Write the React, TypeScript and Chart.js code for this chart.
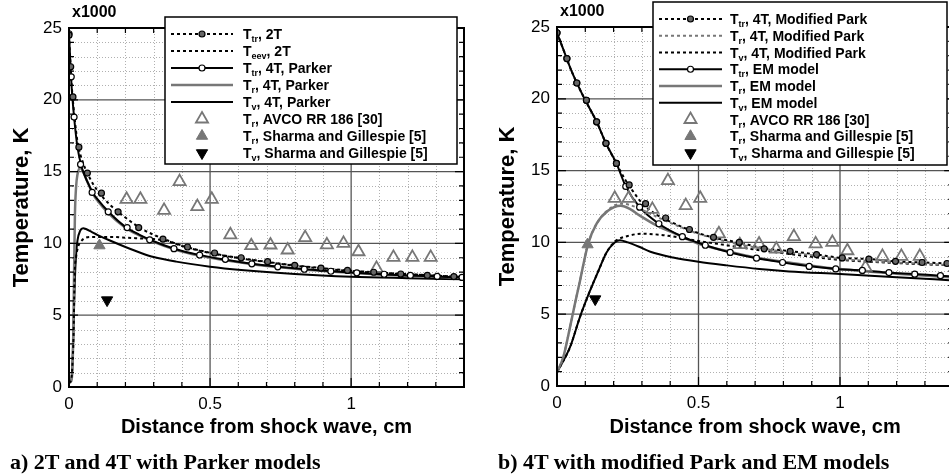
import React, { useEffect, useRef } from 'react';
import { Chart, registerables } from 'chart.js';
Chart.register(...registerables);

const FONT = "'Liberation Sans', Arial, Helvetica, sans-serif";
const SERIF = "'Liberation Serif', 'Times New Roman', serif";
const GRAY = '#777777';

// axes (x in cm, T in units of 1000 K)
const X_TICKS = [0, 0.5, 1];
const Y_TICKS = [0, 5, 10, 15, 20, 25];
const X_MAX = 1.4;
const Y_MAX = 25;

// ---------- Panel a) 2T and 4T with Parker models ----------
const A_TTR2T_X = [0, 0.005, 0.01, 0.02, 0.03, 0.05, 0.075, 0.1, 0.15, 0.2, 0.25, 0.3, 0.35, 0.4, 0.5, 0.6, 0.7, 0.8, 0.9, 1.0, 1.1, 1.2, 1.3, 1.4];
const A_TTR2T_Y = [24.5, 22.6, 20.9, 18.7, 17.1, 15.6, 14.5, 13.7, 12.6, 11.8, 11.1, 10.6, 10.2, 9.85, 9.35, 9.0, 8.72, 8.47, 8.27, 8.1, 7.97, 7.86, 7.76, 7.66];
const A_TTR2T_MX = [0, 0.006, 0.014, 0.035, 0.065, 0.115, 0.174, 0.247, 0.333, 0.42, 0.516, 0.61, 0.704, 0.8, 0.893, 0.987, 1.08, 1.176, 1.27, 1.364];
const A_TTR2T_MY = [24.5, 22.3, 20.2, 16.7, 14.9, 13.5, 12.2, 11.1, 10.3, 9.75, 9.33, 9.0, 8.73, 8.47, 8.28, 8.12, 7.99, 7.87, 7.77, 7.69];

const A_TEEV2T_X = [0, 0.008, 0.012, 0.016, 0.02, 0.025, 0.033, 0.045, 0.06, 0.08, 0.1, 0.15, 0.2, 0.25, 0.3, 0.35, 0.4, 0.5, 0.6, 0.7, 0.8, 0.9, 1.0, 1.1, 1.2, 1.3, 1.4];
const A_TEEV2T_Y = [0.3, 0.5, 1.5, 3.5, 7.8, 9.0, 9.8, 10.2, 10.4, 10.45, 10.45, 10.45, 10.4, 10.35, 10.3, 10.15, 9.82, 9.33, 8.98, 8.7, 8.45, 8.25, 8.08, 7.95, 7.85, 7.75, 7.65];

const A_TTR4T_X = [0, 0.005, 0.01, 0.02, 0.03, 0.045, 0.065, 0.085, 0.1, 0.14, 0.2, 0.25, 0.3, 0.37, 0.46, 0.55, 0.65, 0.75, 0.85, 1.0, 1.1, 1.2, 1.3, 1.4];
const A_TTR4T_Y = [24.6, 22.5, 20.7, 18.4, 16.7, 15.3, 14.3, 13.5, 13.1, 12.2, 11.15, 10.6, 10.15, 9.65, 9.2, 8.88, 8.58, 8.36, 8.18, 7.97, 7.86, 7.77, 7.7, 7.62];
const A_TTR4T_MX = [0, 0.008, 0.018, 0.041, 0.082, 0.139, 0.206, 0.286, 0.372, 0.463, 0.554, 0.648, 0.74, 0.834, 0.928, 1.02, 1.117, 1.21, 1.305, 1.393];
const A_TTR4T_MY = [24.6, 21.6, 18.8, 15.5, 13.55, 12.2, 11.1, 10.25, 9.63, 9.19, 8.89, 8.58, 8.37, 8.2, 8.06, 7.95, 7.85, 7.77, 7.7, 7.63];

const A_TR4T_X = [0, 0.008, 0.012, 0.015, 0.018, 0.021, 0.025, 0.03, 0.04, 0.05, 0.065, 0.085, 0.1, 0.14, 0.2, 0.25, 0.3, 0.37, 0.46, 0.55, 0.65, 0.75, 0.85, 1.0, 1.1, 1.2, 1.3, 1.4];
const A_TR4T_Y = [0.3, 0.4, 1.2, 3.5, 8.0, 12.0, 13.9, 14.8, 15.25, 15.0, 14.3, 13.45, 13.0, 12.1, 11.1, 10.55, 10.1, 9.6, 9.15, 8.84, 8.55, 8.33, 8.15, 7.95, 7.84, 7.75, 7.68, 7.6];

const A_TV4T_X = [0, 0.008, 0.012, 0.016, 0.02, 0.025, 0.03, 0.04, 0.05, 0.06, 0.08, 0.1, 0.145, 0.2, 0.26, 0.3, 0.38, 0.5, 0.61, 0.8, 1.0, 1.2, 1.4];
const A_TV4T_Y = [0.3, 0.5, 1.5, 4.0, 7.0, 9.2, 10.2, 10.9, 11.05, 11.0, 10.8, 10.6, 10.2, 9.75, 9.3, 9.05, 8.73, 8.38, 8.15, 7.87, 7.68, 7.58, 7.5];

// ---------- Panel b) 4T with modified Park and EM models ----------
const B_TTR_MP_X = [0, 0.025, 0.05, 0.075, 0.1, 0.14, 0.173, 0.21, 0.24, 0.26, 0.3, 0.35, 0.4, 0.47, 0.55, 0.64, 0.73, 0.82, 0.92, 1.0, 1.1, 1.2, 1.3, 1.4];
const B_TTR_MP_Y = [24.6, 23.3, 22.0, 20.9, 19.9, 18.4, 16.9, 15.5, 14.4, 13.8, 12.75, 11.95, 11.45, 10.85, 10.35, 10.0, 9.6, 9.4, 9.15, 8.93, 8.84, 8.68, 8.6, 8.52];
const B_TTR_MP_MX = [0, 0.035, 0.07, 0.104, 0.14, 0.173, 0.21, 0.255, 0.313, 0.384, 0.468, 0.553, 0.644, 0.732, 0.824, 0.917, 1.008, 1.102, 1.196, 1.29, 1.378];
const B_TTR_MP_MY = [24.6, 22.8, 21.1, 19.9, 18.4, 16.9, 15.5, 14.0, 12.7, 11.7, 10.9, 10.35, 10.0, 9.55, 9.38, 9.15, 8.92, 8.84, 8.68, 8.6, 8.53];

const B_TR_MP_X = [0, 0.022, 0.046, 0.063, 0.081, 0.11, 0.14, 0.18, 0.23, 0.28, 0.35, 0.42, 0.5, 0.6, 0.7, 0.8, 0.9, 1.0, 1.1, 1.2, 1.3, 1.4];
const B_TR_MP_Y = [0.95, 2.0, 4.1, 5.7, 7.3, 9.9, 11.3, 12.25, 12.7, 12.45, 11.8, 11.2, 10.6, 10.05, 9.65, 9.35, 9.1, 8.85, 8.7, 8.6, 8.5, 8.42];

const B_TV_MP_X = [0, 0.046, 0.081, 0.116, 0.146, 0.175, 0.204, 0.25, 0.3, 0.37, 0.43, 0.5, 0.6, 0.7, 0.8, 0.9, 1.0, 1.1, 1.2, 1.3, 1.4];
const B_TV_MP_Y = [0.95, 2.7, 4.8, 6.6, 8.0, 9.3, 10.05, 10.45, 10.6, 10.52, 10.35, 10.1, 9.8, 9.5, 9.25, 9.0, 8.78, 8.66, 8.56, 8.47, 8.4];

const B_TTR_EM_X = [0, 0.025, 0.05, 0.075, 0.1, 0.14, 0.173, 0.21, 0.243, 0.292, 0.36, 0.443, 0.524, 0.612, 0.705, 0.8, 0.89, 0.985, 1.08, 1.17, 1.26, 1.355, 1.4];
const B_TTR_EM_Y = [24.6, 23.3, 22.0, 20.9, 19.9, 18.4, 16.9, 15.5, 13.9, 12.45, 11.3, 10.4, 9.8, 9.3, 8.9, 8.6, 8.35, 8.15, 8.05, 7.9, 7.8, 7.68, 7.63];
const B_TTR_EM_MX = [0, 0.035, 0.07, 0.104, 0.14, 0.173, 0.21, 0.243, 0.292, 0.36, 0.443, 0.524, 0.612, 0.705, 0.797, 0.891, 0.985, 1.079, 1.173, 1.264, 1.355];
const B_TTR_EM_MY = [24.6, 22.8, 21.1, 19.9, 18.4, 16.9, 15.5, 13.9, 12.45, 11.3, 10.4, 9.8, 9.3, 8.9, 8.6, 8.33, 8.15, 8.05, 7.9, 7.79, 7.68];

const B_TR_EM_X = [0, 0.022, 0.046, 0.063, 0.081, 0.11, 0.14, 0.18, 0.225, 0.26, 0.29, 0.35, 0.43, 0.5, 0.6, 0.7, 0.82, 1.0, 1.2, 1.4];
const B_TR_EM_Y = [0.95, 2.0, 4.1, 5.7, 7.3, 9.9, 11.3, 12.2, 12.55, 12.3, 11.9, 11.2, 10.5, 9.9, 9.4, 8.95, 8.6, 8.14, 7.82, 7.55];

const B_TV_EM_X = [0, 0.046, 0.081, 0.116, 0.146, 0.175, 0.204, 0.222, 0.25, 0.29, 0.33, 0.41, 0.5, 0.6, 0.715, 0.82, 1.0, 1.2, 1.4];
const B_TV_EM_Y = [0.95, 2.7, 4.8, 6.6, 8.0, 9.3, 10.0, 10.15, 10.0, 9.7, 9.35, 8.95, 8.65, 8.4, 8.15, 7.98, 7.8, 7.58, 7.35];

// ---------- Experimental data (both panels) ----------
const AVCO_X = [0.204, 0.253, 0.337, 0.392, 0.455, 0.506, 0.572, 0.646, 0.714, 0.775, 0.837, 0.914, 0.973, 1.026, 1.09, 1.15, 1.217, 1.282];
const AVCO_Y = [13.07, 13.07, 12.3, 14.3, 12.56, 13.07, 10.6, 9.84, 9.89, 9.54, 10.4, 9.9, 10.0, 9.42, 8.26, 9.03, 9.03, 9.03];
const SHARMA_TR_X = [0.108];
const SHARMA_TR_Y = [9.85];
const SHARMA_TV_X = [0.135];
const SHARMA_TV_Y = [6.05];

// ---------- Text ----------
const A_LEG_SUB = ['tr', 'eev', 'tr', 'r', 'v', 'r', 'r', 'v'];
const A_LEG_REST = [', 2T', ', 2T', ', 4T, Parker', ', 4T, Parker', ', 4T, Parker', ', AVCO RR 186 [30]', ', Sharma and Gillespie [5]', ', Sharma and Gillespie [5]'];
const B_LEG_SUB = ['tr', 'r', 'v', 'tr', 'r', 'v', 'r', 'r', 'v'];
const B_LEG_REST = [', 4T, Modified Park', ', 4T, Modified Park', ', 4T, Modified Park', ', EM model', ', EM model', ', EM model', ', AVCO RR 186 [30]', ', Sharma and Gillespie [5]', ', Sharma and Gillespie [5]'];
const X_TITLE = 'Distance from shock wave, cm';
const Y_TITLE = 'Temperature, K';
const Y_SCALE_NOTE = 'x1000';
const CAPTION_A = 'a) 2T and 4T with Parker models';
const CAPTION_B = 'b) 4T with modified Park and EM models';

const zip = (xs: number[], ys: number[]) => xs.map((x, i) => ({ x, y: ys[i] }));

function lineDs(xs: number[], ys: number[], color: string, dash: number[], width: number) {
  return {
    data: zip(xs, ys), borderColor: color, borderWidth: width, borderDash: dash,
    pointRadius: 0, fill: false, cubicInterpolationMode: 'monotone', showLine: true,
  };
}
function markDs(xs: number[], ys: number[], style: string, radius: number, bg: string, border: string, bw: number, rot = 0) {
  return {
    data: zip(xs, ys), showLine: false, pointStyle: style, pointRadius: radius,
    pointBackgroundColor: bg, pointBorderColor: border, pointBorderWidth: bw, pointRotation: rot,
  };
}

function drawMarker(ctx: CanvasRenderingContext2D, ds: any, x: number, y: number) {
  const r = ds.pointRadius;
  ctx.save();
  ctx.setLineDash([]);
  ctx.lineWidth = ds.pointBorderWidth;
  ctx.strokeStyle = ds.pointBorderColor;
  ctx.fillStyle = ds.pointBackgroundColor;
  ctx.beginPath();
  if (ds.pointStyle === 'circle') {
    ctx.arc(x, y, r, 0, Math.PI * 2);
  } else {
    let a = ((ds.pointRotation || 0) * Math.PI) / 180;
    for (let k = 0; k < 3; k++) {
      const px = x + Math.sin(a) * r, py = y - Math.cos(a) * r;
      if (k === 0) ctx.moveTo(px, py); else ctx.lineTo(px, py);
      a += (2 * Math.PI) / 3;
    }
    ctx.closePath();
  }
  ctx.fill();
  ctx.stroke();
  ctx.restore();
}

const framePlugin = {
  id: 'frameGrid',
  beforeDatasetsDraw(chart: any) {
    const { ctx, chartArea: a, scales } = chart;
    const x = scales.x, y = scales.y;
    ctx.save();
    // minor grid
    ctx.setLineDash([1, 2]);
    ctx.strokeStyle = '#b0b0b0';
    ctx.lineWidth = 1;
    for (let i = 1; i < 14; i++) {
      if (i % 5 === 0) continue;
      const px = Math.round(x.getPixelForValue(i / 10)) + 0.5;
      ctx.beginPath(); ctx.moveTo(px, a.top); ctx.lineTo(px, a.bottom); ctx.stroke();
    }
    for (let j = 1; j < 25; j++) {
      if (j % 5 === 0) continue;
      const py = Math.round(y.getPixelForValue(j)) + 0.5;
      ctx.beginPath(); ctx.moveTo(a.left, py); ctx.lineTo(a.right, py); ctx.stroke();
    }
    // major grid
    ctx.setLineDash([]);
    ctx.strokeStyle = '#555555';
    ctx.lineWidth = 1.3;
    for (let i = 5; i < 14; i += 5) {
      const px = x.getPixelForValue(i / 10);
      ctx.beginPath(); ctx.moveTo(px, a.top); ctx.lineTo(px, a.bottom); ctx.stroke();
    }
    for (let j = 5; j < 25; j += 5) {
      const py = y.getPixelForValue(j);
      ctx.beginPath(); ctx.moveTo(a.left, py); ctx.lineTo(a.right, py); ctx.stroke();
    }
    ctx.restore();
  },
  afterDatasetsDraw(chart: any) {
    const { ctx, chartArea: a, scales } = chart;
    const x = scales.x, y = scales.y;
    ctx.save();
    ctx.setLineDash([]);
    ctx.strokeStyle = '#000';
    ctx.lineWidth = 1.2;
    for (let i = 0; i <= 14; i++) {
      const px = x.getPixelForValue(i / 10);
      const len = i % 5 === 0 ? 9 : 5;
      ctx.beginPath();
      ctx.moveTo(px, a.bottom); ctx.lineTo(px, a.bottom - len);
      ctx.moveTo(px, a.top); ctx.lineTo(px, a.top + len);
      ctx.stroke();
    }
    for (let j = 0; j <= 25; j++) {
      const py = y.getPixelForValue(j);
      const len = j % 5 === 0 ? 9 : 5;
      ctx.beginPath();
      ctx.moveTo(a.left, py); ctx.lineTo(a.left + len, py);
      ctx.moveTo(a.right, py); ctx.lineTo(a.right - len, py);
      ctx.stroke();
    }
    ctx.lineWidth = 2;
    ctx.strokeRect(a.left, a.top, a.right - a.left, a.bottom - a.top);
    // x1000 note
    ctx.fillStyle = '#000';
    ctx.font = `bold 16px ${FONT}`;
    ctx.textBaseline = 'middle';
    ctx.textAlign = 'left';
    ctx.fillText(Y_SCALE_NOTE, a.left + 3, a.top - 15);
    ctx.restore();
  },
  afterDraw(chart: any) {
    const cfg = chart.options.plugins.texLegend;
    if (!cfg) return;
    const { ctx } = chart;
    const ds = chart.data.datasets;
    ctx.save();
    ctx.fillStyle = '#fff';
    ctx.fillRect(cfg.box[0], cfg.box[1], cfg.box[2] - cfg.box[0], cfg.box[3] - cfg.box[1]);
    ctx.strokeStyle = '#000';
    ctx.lineWidth = 1.5;
    ctx.setLineDash([]);
    ctx.strokeRect(cfg.box[0], cfg.box[1], cfg.box[2] - cfg.box[0], cfg.box[3] - cfg.box[1]);
    cfg.items.forEach((it: any, i: number) => {
      const cy = cfg.rowY + i * cfg.rowH;
      const mid = (cfg.sample[0] + cfg.sample[1]) / 2;
      if (it.line != null) {
        const d = ds[it.line];
        ctx.save();
        ctx.strokeStyle = d.borderColor;
        ctx.lineWidth = d.borderWidth;
        ctx.setLineDash(d.borderDash || []);
        ctx.beginPath(); ctx.moveTo(cfg.sample[0], cy); ctx.lineTo(cfg.sample[1], cy); ctx.stroke();
        ctx.restore();
      }
      if (it.mark != null) drawMarker(ctx, ds[it.mark], mid, cy);
      ctx.fillStyle = '#000';
      ctx.textAlign = 'left';
      ctx.textBaseline = 'alphabetic';
      const base = cy + 5;
      let tx = cfg.textX;
      ctx.font = `bold 14px ${FONT}`;
      ctx.fillText('T', tx, base);
      tx += ctx.measureText('T').width;
      ctx.font = `bold 9px ${FONT}`;
      ctx.fillText(it.sub, tx, base + 3);
      tx += ctx.measureText(it.sub).width;
      ctx.font = `bold 14px ${FONT}`;
      ctx.fillText(it.rest, tx, base);
    });
    ctx.restore();
  },
};

function makeConfig(datasets: any[], geo: any, legend: any) {
  return {
    type: 'line',
    data: { datasets },
    plugins: [framePlugin],
    options: {
      responsive: false,
      animation: false,
      devicePixelRatio: 1,
      parsing: false,
      layout: { padding: { left: 0, top: geo.top, right: geo.right, bottom: 0 } },
      plugins: { legend: { display: false }, tooltip: { enabled: false }, texLegend: legend },
      scales: {
        x: {
          type: 'linear', min: 0, max: X_MAX,
          grid: { display: false, drawTicks: false },
          border: { display: false },
          afterBuildTicks: (s: any) => { s.ticks = X_TICKS.map((v) => ({ value: v })); },
          afterFit: (s: any) => { s.height = geo.xh; },
          ticks: { color: '#000', font: { family: FONT, size: 17 }, padding: 7, maxRotation: 0, callback: (v: any) => String(v) },
          title: { display: true, text: X_TITLE, color: '#000', font: { family: FONT, size: 20, weight: 'bold' }, padding: { top: 0, bottom: 35 } },
        },
        y: {
          type: 'linear', min: 0, max: Y_MAX,
          grid: { display: false, drawTicks: false },
          border: { display: false },
          afterBuildTicks: (s: any) => { s.ticks = Y_TICKS.map((v) => ({ value: v })); },
          afterFit: (s: any) => { s.width = geo.yw; },
          ticks: { color: '#000', font: { family: FONT, size: 17 }, padding: 7, callback: (v: any) => String(v) },
          title: { display: true, text: Y_TITLE, color: '#000', font: { family: FONT, size: 22, weight: 'bold' }, padding: { top: geo.tpad, bottom: 0 } },
        },
      },
    },
  };
}

function Panel({ datasets, geo, legend, left, width }: any) {
  const ref = useRef<HTMLCanvasElement>(null);
  useEffect(() => {
    const chart = new Chart(ref.current as HTMLCanvasElement, makeConfig(datasets, geo, legend) as any);
    return () => chart.destroy();
  }, []);
  return (
    <canvas ref={ref} width={width} height={474}
      style={{ position: 'absolute', left, top: 0, width, height: 474 }} />
  );
}

export default function App() {
  const dsA = [
    markDs(A_TTR2T_MX, A_TTR2T_MY, 'circle', 3, '#666', '#000', 1.2),
    markDs(A_TTR4T_MX, A_TTR4T_MY, 'circle', 3, '#fff', '#000', 1.2),
    markDs(AVCO_X, AVCO_Y, 'triangle', 7, 'rgba(0,0,0,0)', GRAY, 1.8),
    markDs(SHARMA_TR_X, SHARMA_TR_Y, 'triangle', 6.5, GRAY, GRAY, 1),
    markDs(SHARMA_TV_X, SHARMA_TV_Y, 'triangle', 6.5, '#000', '#000', 1, 180),
    lineDs(A_TTR2T_X, A_TTR2T_Y, '#000', [3, 3], 2),
    lineDs(A_TEEV2T_X, A_TEEV2T_Y, '#000', [3, 3], 2),
    lineDs(A_TTR4T_X, A_TTR4T_Y, '#000', [], 2),
    lineDs(A_TR4T_X, A_TR4T_Y, GRAY, [], 2.5),
    lineDs(A_TV4T_X, A_TV4T_Y, '#000', [], 2),
  ];
  const legA = {
    box: [165, 17, 457, 164], rowY: 34, rowH: 17, sample: [171, 233], textX: 243,
    items: [
      { line: 5, mark: 0 }, { line: 6 }, { line: 7, mark: 1 }, { line: 8 }, { line: 9 },
      { mark: 2 }, { mark: 3 }, { mark: 4 },
    ].map((it: any, i) => ({ ...it, sub: A_LEG_SUB[i], rest: A_LEG_REST[i] })),
  };
  const dsB = [
    markDs(B_TTR_MP_MX, B_TTR_MP_MY, 'circle', 3, '#666', '#000', 1.2),
    markDs(B_TTR_EM_MX, B_TTR_EM_MY, 'circle', 3, '#fff', '#000', 1.2),
    markDs(AVCO_X, AVCO_Y, 'triangle', 7, 'rgba(0,0,0,0)', GRAY, 1.8),
    markDs(SHARMA_TR_X, SHARMA_TR_Y, 'triangle', 6.5, GRAY, GRAY, 1),
    markDs(SHARMA_TV_X, SHARMA_TV_Y, 'triangle', 6.5, '#000', '#000', 1, 180),
    lineDs(B_TTR_MP_X, B_TTR_MP_Y, '#000', [3, 3], 2),
    lineDs(B_TR_MP_X, B_TR_MP_Y, GRAY, [3, 3], 2),
    lineDs(B_TV_MP_X, B_TV_MP_Y, '#000', [3, 3], 2),
    lineDs(B_TTR_EM_X, B_TTR_EM_Y, '#000', [], 2),
    lineDs(B_TR_EM_X, B_TR_EM_Y, GRAY, [], 2.5),
    lineDs(B_TV_EM_X, B_TV_EM_Y, '#000', [], 2),
  ];
  const legB = {
    box: [173, 2, 467, 165], rowY: 19, rowH: 16.75, sample: [179, 242], textX: 250,
    items: [
      { line: 5, mark: 0 }, { line: 6 }, { line: 7 }, { line: 8, mark: 1 }, { line: 9 }, { line: 10 },
      { mark: 2 }, { mark: 3 }, { mark: 4 },
    ].map((it: any, i) => ({ ...it, sub: B_LEG_SUB[i], rest: B_LEG_REST[i] })),
  };
  const capStyle: React.CSSProperties = {
    position: 'absolute', top: 450, fontFamily: SERIF, fontWeight: 'bold', fontSize: 22,
    lineHeight: '24px', whiteSpace: 'nowrap', color: '#000',
  };
  return (
    <div style={{ position: 'fixed', left: 0, top: 0, width: 949, height: 474, overflow: 'hidden', background: '#fff' }}>
      <Panel datasets={dsA} legend={legA} left={0} width={475}
        geo={{ top: 28, right: 11, xh: 87, yw: 69, tpad: 9 }} />
      <Panel datasets={dsB} legend={legB} left={480} width={482}
        geo={{ top: 27, right: 7, xh: 88, yw: 77, tpad: 15 }} />
      <div style={{ ...capStyle, left: 10 }}>{CAPTION_A}</div>
      <div style={{ ...capStyle, left: 498 }}>{CAPTION_B}</div>
    </div>
  );
}
